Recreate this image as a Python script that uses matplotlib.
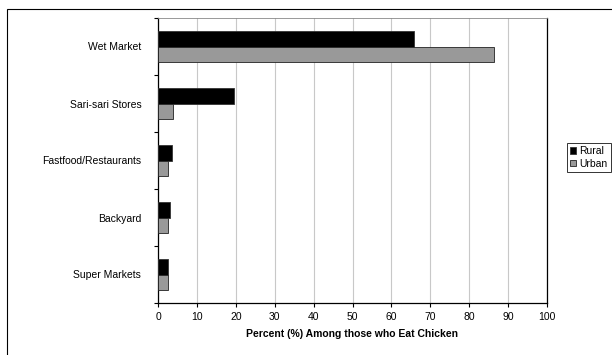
import matplotlib.pyplot as plt
import numpy as np
from matplotlib.patches import Rectangle

plt.rcParams['font.family'] = ['Liberation Sans', 'DejaVu Sans']

categories = ["Wet Market", "Sari-sari Stores", "Fastfood/Restaurants", "Backyard", "Super Markets"]
rural = [65.8, 19.5, 3.7, 3.2, 2.5]
urban = [86.4, 3.9, 2.5, 2.5, 2.5]
series_names = ["Rural", "Urban"]
xticks = list(range(0, 101, 10))

fig = plt.figure(figsize=(6.12, 3.55), dpi=100)
ax = fig.add_axes([158 / 612, 52 / 355, (547 - 158) / 612, (303 - 18) / 355])

y = np.arange(len(categories))[::-1]
h = 0.28
ax.barh(y + h / 2, rural, height=h, color="black", edgecolor="#333333", linewidth=0.6, label=series_names[0], zorder=3)
ax.barh(y - h / 2, urban, height=h, color="#999999", edgecolor="#222222", linewidth=0.6, label=series_names[1], zorder=3)

ax.set_xlim(0, 100)
ax.set_ylim(-0.5, len(categories) - 0.5)
ax.set_xticks(xticks)
ax.set_yticks(y)
ax.set_yticklabels(categories)
ax.set_yticks(np.arange(-0.5, len(categories), 1), minor=True)
ax.tick_params(axis="y", which="major", length=0, pad=12, labelsize=7.5)
ax.tick_params(axis="y", which="minor", length=3, direction="out", width=0.8)
ax.tick_params(axis="x", length=3, direction="out", labelsize=7.5, width=0.8)
ax.grid(axis="x", color="#c8c8c8", linewidth=0.8, zorder=0)
for s in ["left", "bottom", "right"]:
    ax.spines[s].set_color("black")
    ax.spines[s].set_linewidth(0.9)
ax.spines["top"].set_color("#888888")
ax.spines["top"].set_linewidth(0.6)
ax.set_xlabel("Percent (%) Among those who Eat Chicken", fontsize=7.5, fontweight="bold", labelpad=5)

# legend sits at the right edge, partly cut off like the original
leg = fig.legend(loc="upper left", bbox_to_anchor=(567 / 612, 1 - 143 / 355), fontsize=7.5,
                 frameon=True, fancybox=False, edgecolor="black", handlelength=0.6, handleheight=0.6,
                 handletextpad=0.3, borderpad=0.3, labelspacing=0.25, borderaxespad=0)
leg.get_frame().set_linewidth(0.7)

fig.patches.append(Rectangle((7 / 612, -0.1), 1.0, 1 - 9 / 355 + 0.1, transform=fig.transFigure,
                             fill=False, edgecolor="black", linewidth=0.8))

fig.savefig("out.png", dpi=100)
